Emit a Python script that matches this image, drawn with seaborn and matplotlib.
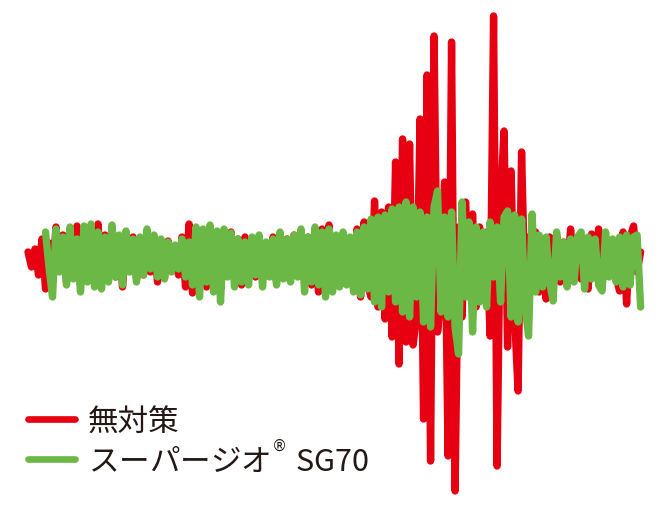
import numpy as np
import pandas as pd
import seaborn as sns
import matplotlib.pyplot as plt

# vibration amplitude, one value per sample (up = positive)
no_measure = [
    5, -10, 8, -18, 18, -32, 14, -20, 30, -12,
    22, -25, 18, -15, 31, -28, 20, -22, 25, -18,
    33, -25, 22, -15, 28, -20, 18, -30, 15, -12,
    20, -22, 14, -18, 24, -15, 20, -25, 12, -20,
    16, -14, 10, -18, 20, -30, 33, -36, 28, -25,
    22, -30, 26, -20, 18, -32, 22, -18, 25, -22,
    18, -28, 20, -15, 14, -20, 18, -22, 12, -18,
    20, -25, 24, -15, 18, -20, 22, -18, 14, -22,
    20, -28, 16, -35, 28, -22, 32, -30, 20, -25,
    22, -18, 18, -30, 28, -40, 35, -28, -40, 56,
    -50, 45, -62, 50, -80, 95, -107, 118, -85, 113,
    -88, -60, 138, -162, 182, -204, 221, -75, -40, 75,
    -199, 215, -234, 30, -60, 55, -40, 43, -50, 30,
    -40, 25, -79, 241, -209, 60, 126, -90, 86, -60,
    -134, 105, -40, 20, -30, 25, -35, 18, -42, 20,
    -30, 22, -25, 15, -20, 28, -15, 18, -22, 15,
    -32, 23, -10, 28, -25, 20, -18, 15, -20, -34,
    25, -47, 20, 31, -15, 5,
]
super_geo = [
    np.nan, np.nan, np.nan, np.nan, np.nan, 25, -10, -40, 28, -15,
    20, -28, 30, -22, 18, -35, 31, -25, 33, -30,
    25, -32, 20, -25, 32, -20, 22, -28, 26, -15,
    18, -25, 20, -18, 28, -12, 22, -20, 18, -22,
    15, -15, 12, -12, 18, -20, 15, -28, 30, -40,
    28, -25, 32, -35, 26, -45, 28, -20, 24, -30,
    18, -25, 15, -28, 20, -18, 22, -30, 15, -20,
    18, -28, 25, -22, 18, -25, 22, -20, 28, -35,
    20, -25, 30, -28, 25, -40, 28, -35, 22, -30,
    25, -28, 20, -35, 25, -38, 30, -32, 38, -45,
    40, -50, 42, -35, 48, -45, 50, -55, 55, -60,
    50, -40, 45, -65, 40, -70, 50, 66, -55, 40,
    -60, 45, -70, -97, 55, -40, 35, -75, 30, -45,
    25, -50, 35, -20, 30, -45, 40, 46, -60, 42,
    -65, 38, -50, -79, 43, -35, 22, -30, 20, -25,
    -44, 25, -20, 15, -30, 18, -25, 20, 25, -32,
    20, -22, 18, -28, -34, 25, -20, 18, -25, 20,
    -30, 22, -28, 20, 22, -50,
]
series_names = ["無対策", "スーパージオ${}^{{}^{®}}$ SG70"]
colors = ["#e60012", "#6cb846"]

sample = np.arange(len(no_measure))
df = pd.concat([
    pd.DataFrame({"sample": sample, "amp": no_measure, "series": series_names[0]}),
    pd.DataFrame({"sample": sample, "amp": super_geo, "series": series_names[1]}),
], ignore_index=True)

sns.set_style("white")
plt.rcParams["font.family"] = ["Noto Sans CJK JP", "DejaVu Sans"]

fig = plt.figure(figsize=(6.7, 5.1), dpi=100)
ax = fig.add_axes([0, 0, 1, 1])
sns.lineplot(data=df, x="sample", y="amp", hue="series", palette=colors,
             estimator=None, sort=False, linewidth=5.3, ax=ax,
             solid_joinstyle="round", solid_capstyle="round")

ax.set_xlim(-8, 183.4)
ax.set_ylim(-252, 258)
ax.axis("off")

handles, labels = ax.get_legend_handles_labels()
for h in handles:
    h.set_linewidth(4.8)
leg = ax.legend(handles, labels, loc="center left",
                bbox_to_anchor=(28 / 670, 1 - 442 / 510),
                frameon=False, fontsize=22, handlelength=1.55,
                handletextpad=0.4, labelspacing=0.07,
                borderpad=0, borderaxespad=0)
for t in leg.get_texts():
    t.set_color("#231815")

fig.savefig("out.png", dpi=100)
